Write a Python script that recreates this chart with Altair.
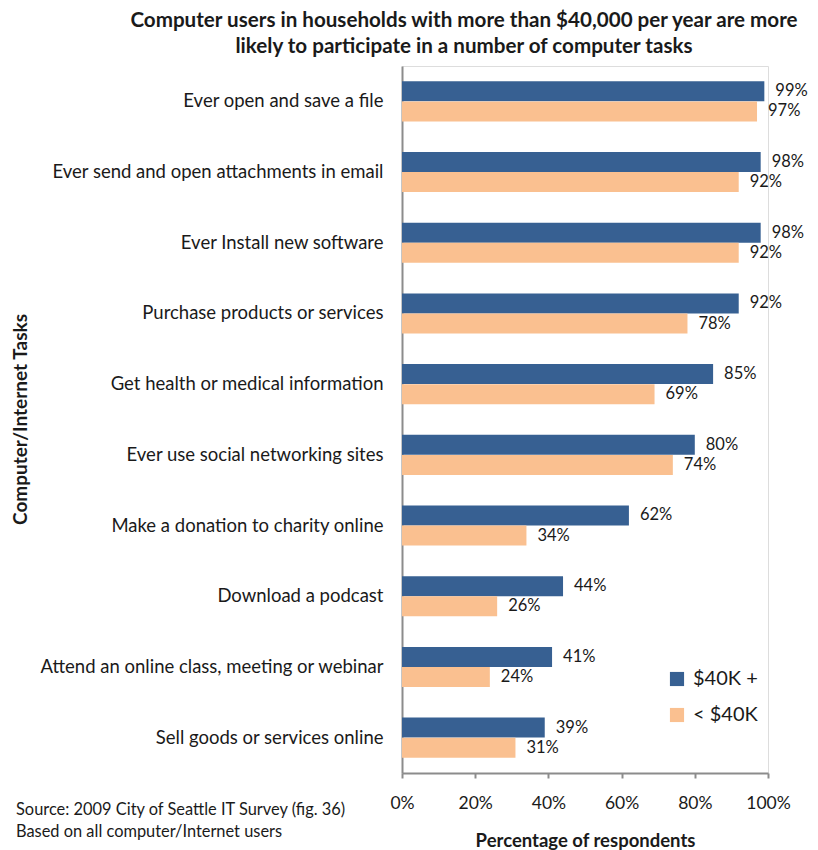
import altair as alt
import pandas as pd

tasks = [
    "Ever open and save a file",
    "Ever send and open attachments  in email",
    "Ever Install new software",
    "Purchase products or services",
    "Get health or medical information",
    "Ever use social networking  sites",
    "Make a donation to charity online",
    "Download a podcast",
    "Attend an online class, meeting or webinar",
    "Sell goods or services online",
]
high_income = [99, 98, 98, 92, 85, 80, 62, 44, 41, 39]
low_income = [97, 92, 92, 78, 69, 74, 34, 26, 24, 31]
groups = ["$40K +", "< $40K"]
x_ticks = [0, 20, 40, 60, 80, 100]
title_lines = [
    "Computer users in households with more than $40,000 per year are more",
    "likely to participate in a number of computer tasks",
]
footnotes = [
    "Source: 2009 City of Seattle IT Survey (fig. 36)",
    "Based on all computer/Internet users",
]

rows = []
for t, h, l in zip(tasks, high_income, low_income):
    rows.append({"task": t, "group": groups[0], "value": h})
    rows.append({"task": t, "group": groups[1], "value": l})
df = pd.DataFrame(rows)

FONT = "Lato"
TXT = "#1a1a1a"
AXISC = "#8c8c8c"
LEFT = 394

y_enc = alt.Y(
    "task:N",
    sort=tasks,
    scale=alt.Scale(paddingInner=0.43, paddingOuter=0.215),
    axis=alt.Axis(
        title="Computer/Internet Tasks",
        titleFont=FONT, titleFontSize=19, titleFontWeight="bold", titleColor=TXT,
        titleX=12 - LEFT, titleY=353, titleAlign="center", titleBaseline="middle",
        titleAngle=-90,
        labelFont=FONT, labelFontSize=18.5, labelColor=TXT, labelPadding=19,
        labelLimit=400,
        ticks=False, domainColor=AXISC, domainWidth=2,
    ),
)
x_enc = alt.X(
    "value:Q",
    scale=alt.Scale(domain=[0, 100]),
    axis=alt.Axis(
        title="Percentage of respondents",
        titleFont=FONT, titleFontSize=18.5, titleFontWeight="bold", titleColor=TXT,
        titlePadding=20,
        values=x_ticks, labelExpr="datum.value + '%'", labelFlush=False,
        labelFont=FONT, labelFontSize=17.5, labelColor=TXT, labelPadding=16,
        tickSize=5, tickColor=AXISC, tickWidth=2,
        domainColor=AXISC, domainWidth=2, grid=False,
    ),
)

base = alt.Chart(df).encode(
    y=y_enc,
    yOffset=alt.YOffset("group:N", sort=groups),
    x=x_enc,
)

bars = base.mark_bar(size=20).encode(
    color=alt.Color(
        "group:N",
        sort=groups,
        scale=alt.Scale(domain=groups, range=["#376092", "#FAC090"]),
        legend=alt.Legend(
            title=None, orient="none", legendX=265, legendY=603,
            symbolType="square", symbolSize=200, symbolStrokeWidth=0,
            labelFont=FONT, labelFontSize=20, labelColor=TXT,
            labelOffset=6, rowPadding=16,
        ),
    )
)

labels = base.mark_text(
    align="left", baseline="middle", dx=11, font=FONT, fontSize=16.5, color=TXT
).encode(text=alt.Text("label:N")).transform_calculate(
    label="datum.value + '%'"
)

foot = alt.Chart(pd.DataFrame({"k": [0]})).mark_text(
    align="left", baseline="middle", font=FONT, fontSize=16.4, color=TXT,
    lineHeight=22, text=footnotes,
).encode(x=alt.value(8 - LEFT), y=alt.value(744))

chart = (
    alt.layer(bars, labels, foot)
    .properties(
        width=366,
        height=707,
        autosize=alt.AutoSizeParams(type="none"),
        padding={"left": LEFT, "top": 58, "right": 42, "bottom": 77},
        title=alt.TitleParams(
            text=title_lines, font=FONT, fontSize=20.6, fontWeight="bold",
            color=TXT, anchor="middle", frame="group", dx=-121,
            lineHeight=26, offset=8,
        ),
    )
    .configure_view(stroke=None)
    .configure(background="white")
)

chart.save("out.html", embed_options={"renderer": "svg", "actions": False})
